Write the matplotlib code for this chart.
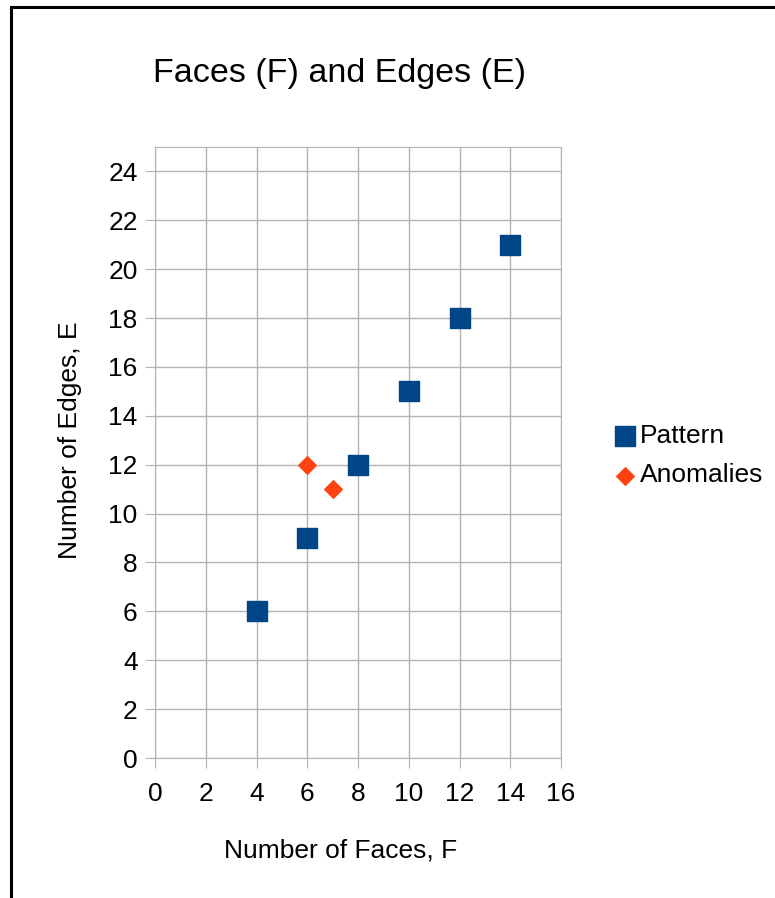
import matplotlib.pyplot as plt
from matplotlib.patches import Rectangle

plt.rcParams['font.family'] = ['Liberation Sans', 'DejaVu Sans']

pattern_f = [4, 6, 8, 10, 12, 14]
pattern_e = [6, 9, 12, 15, 18, 21]
anomaly_f = [6, 7]
anomaly_e = [12, 11]

x_ticks = list(range(0, 17, 2))
y_ticks = list(range(0, 25, 2))

fig = plt.figure(figsize=(7.75, 8.98), dpi=100)
ax = fig.add_axes([0.2, 0.1559, 0.5239, 0.6804])

ax.scatter(pattern_f, pattern_e, marker='s', s=190, color='#004586',
           label='Pattern', zorder=3)
ax.scatter(anomaly_f, anomaly_e, marker='D', s=80, color='#ff420e',
           label='Anomalies', zorder=3)

ax.set_xlim(0, 16)
ax.set_ylim(0, 25)
ax.set_xticks(x_ticks)
ax.set_yticks(y_ticks)
ax.grid(True, color='#b3b3b3', linewidth=1)
ax.set_axisbelow(True)
for s in ax.spines.values():
    s.set_color('#b3b3b3')
ax.tick_params(direction='out', length=7.5, color='#b3b3b3', labelsize=19)
ax.tick_params(axis='x', pad=10)
ax.tick_params(axis='y', pad=5)

ax.set_xlabel('Number of Faces, F', fontsize=19)
ax.set_ylabel('Number of Edges, E', fontsize=19)
ax.xaxis.set_label_coords(0.458, -0.131)
ax.yaxis.set_label_coords(-0.181, 0.52)
fig.text(0.438, 0.918, 'Faces (F) and Edges (E)', fontsize=24.5,
         ha='center', va='center')

ax.legend(loc='center left', bbox_to_anchor=(1.1, 0.495), frameon=False,
          fontsize=19, handletextpad=0.05, labelspacing=0.6,
          handlelength=1.0, borderaxespad=0)

fig.add_artist(Rectangle((0.0142, -0.1), 1.2, 1.092, transform=fig.transFigure,
                         fill=False, edgecolor='black', linewidth=2.2))

fig.savefig('out.png', dpi=100)
